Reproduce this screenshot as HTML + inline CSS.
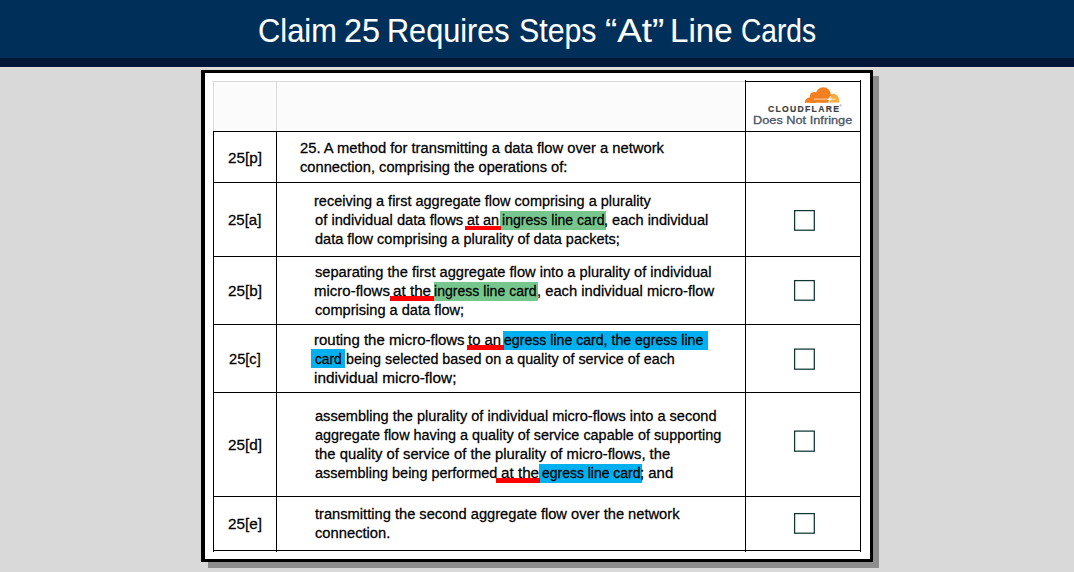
<!DOCTYPE html>
<html><head><meta charset="utf-8">
<style>
html,body{margin:0;padding:0;}
body{width:1074px;height:572px;overflow:hidden;position:relative;background:#d9d9d9;font-family:"Liberation Sans",sans-serif;}
.abs{position:absolute;}
.t{position:absolute;white-space:pre;transform-origin:0 0;line-height:1;color:#000;-webkit-text-stroke:0.25px #000;}
.title{-webkit-text-stroke:0.1px #fff;}
.title{color:#fff;}
.dni{font-weight:normal;color:#4b5567;-webkit-text-stroke:0.3px #4b5567;}
.hl{position:absolute;}
.ul{position:absolute;background:#ff0000;}
.hline{position:absolute;height:1px;background:#000;}
.vline{position:absolute;width:1px;background:#000;}
</style></head><body>
<!-- header -->
<div class="abs" style="left:0;top:0;width:1074px;height:58px;background:#00305a;"></div>
<div class="abs" style="left:0;top:58px;width:1074px;height:9px;background:#001639;"></div>
<div class="abs" style="left:0;top:67px;width:1074px;height:1px;background:#dfdedc;"></div>
<div class="t title" style="left:258.03px;top:13.97px;font-size:33px;transform:scaleX(0.9350);">Claim</div>
<div class="t title" style="left:343.54px;top:13.97px;font-size:33px;transform:scaleX(0.9818);">25</div>
<div class="t title" style="left:387.22px;top:13.97px;font-size:33px;transform:scaleX(0.9281);">Requires</div>
<div class="t title" style="left:518.86px;top:13.97px;font-size:33px;transform:scaleX(0.9183);">Steps</div>
<div class="t title" style="left:604.79px;top:13.97px;font-size:33px;transform:scaleX(1.1137);">“At”</div>
<div class="t title" style="left:669.59px;top:13.97px;font-size:33px;transform:scaleX(1.0034);">Line</div>
<div class="t title" style="left:740.50px;top:13.97px;font-size:33px;transform:scaleX(0.8518);">Cards</div>
<!-- shadow -->
<div class="abs" style="left:208px;top:76px;width:671px;height:492px;background:#8d8d8d;"></div>
<!-- box -->
<div class="abs" style="left:201px;top:70px;width:672px;height:492px;background:#000;"></div>
<div class="abs" style="left:205px;top:73px;width:665px;height:486px;background:#fff;"></div>
<!-- header row (light) -->
<div class="abs" style="left:215px;top:83px;width:60px;height:47px;background:#fbfbfb;"></div>
<div class="abs" style="left:278px;top:83px;width:466px;height:47px;background:#fbfbfb;"></div>
<div class="hline" style="left:213px;top:81px;width:533px;background:#d9d9d9;"></div>
<div class="vline" style="left:213px;top:81px;height:50px;background:#d9d9d9;"></div>
<div class="vline" style="left:276px;top:81px;height:50px;background:#d9d9d9;"></div>
<!-- cloudflare cell borders -->
<div class="hline" style="left:745px;top:81px;width:116px;"></div>
<div class="vline" style="left:745px;top:80px;height:472px;"></div>
<div class="vline" style="left:860px;top:80px;height:472px;"></div>
<!-- row lines -->
<div class="hline" style="left:213px;top:131px;width:648px;"></div>
<div class="hline" style="left:213px;top:182px;width:648px;"></div>
<div class="hline" style="left:213px;top:256px;width:648px;"></div>
<div class="hline" style="left:213px;top:324px;width:648px;"></div>
<div class="hline" style="left:213px;top:392px;width:648px;"></div>
<div class="hline" style="left:213px;top:496px;width:648px;"></div>
<div class="hline" style="left:213px;top:550px;width:648px;"></div>
<div class="vline" style="left:213px;top:131px;height:421px;"></div>
<div class="vline" style="left:276px;top:131px;height:421px;"></div>
<!-- highlights -->
<div class="hl" style="left:500.3px;top:211.1px;width:105.5px;height:18.7px;background:#76c68d;"></div>
<div class="hl" style="left:433.5px;top:282px;width:104.6px;height:18.8px;background:#76c68d;"></div>
<div class="hl" style="left:503.3px;top:331px;width:204.7px;height:18.9px;background:#00b0f0;"></div>
<div class="hl" style="left:311px;top:349px;width:33.9px;height:19px;background:#00b0f0;"></div>
<div class="hl" style="left:539.2px;top:464.1px;width:102.5px;height:18.7px;background:#00b0f0;"></div>
<!-- text -->
<div class="t" style="left:299.50px;top:142.00px;font-size:13.5px;transform-origin:0 11px;transform:scale(1.0925,1.08);">25. A method for transmitting a data flow over a network</div>
<div class="t" style="left:299.50px;top:161.00px;font-size:13.5px;transform-origin:0 11px;transform:scale(1.0861,1.08);">connection, comprising the operations of:</div>
<div class="t" style="left:313.93px;top:195.00px;font-size:13.5px;transform-origin:0 11px;transform:scale(1.0735,1.08);">receiving a first aggregate flow comprising a plurality</div>
<div class="t" style="left:315.00px;top:214.00px;font-size:13.5px;transform-origin:0 11px;transform:scale(1.0912,1.08);">of individual data flows</div>
<div class="t" style="left:467.00px;top:214.00px;font-size:13.5px;transform-origin:0 11px;transform:scale(1.0690,1.08);">at an</div>
<div class="t" style="left:501.96px;top:214.00px;font-size:13.5px;transform-origin:0 11px;transform:scale(1.0423,1.08);">ingress line card</div>
<div class="t" style="left:604.32px;top:214.00px;font-size:13.5px;transform-origin:0 11px;transform:scale(1.0768,1.08);">, each individual</div>
<div class="t" style="left:315.00px;top:233.00px;font-size:13.5px;transform-origin:0 11px;transform:scale(1.0749,1.08);">data flow comprising a plurality of data packets;</div>
<div class="t" style="left:315.00px;top:266.00px;font-size:13.5px;transform-origin:0 11px;transform:scale(1.0847,1.08);">separating the first aggregate flow into a plurality of individual</div>
<div class="t" style="left:313.89px;top:285.00px;font-size:13.5px;transform-origin:0 11px;transform:scale(1.1119,1.08);">micro-flows</div>
<div class="t" style="left:393.10px;top:285.00px;font-size:13.5px;transform-origin:0 11px;transform:scale(1.1273,1.08);">at the</div>
<div class="t" style="left:433.96px;top:285.00px;font-size:13.5px;transform-origin:0 11px;transform:scale(1.0433,1.08);">ingress line card</div>
<div class="t" style="left:536.51px;top:285.00px;font-size:13.5px;transform-origin:0 11px;transform:scale(1.0932,1.08);">, each individual micro-flow</div>
<div class="t" style="left:315.00px;top:304.00px;font-size:13.5px;transform-origin:0 11px;transform:scale(1.0803,1.08);">comprising a data flow;</div>
<div class="t" style="left:313.89px;top:334.00px;font-size:13.5px;transform-origin:0 11px;transform:scale(1.1089,1.08);">routing the micro-flows</div>
<div class="t" style="left:468.30px;top:334.00px;font-size:13.5px;transform-origin:0 11px;transform:scale(1.1000,1.08);">to an</div>
<div class="t" style="left:504.40px;top:334.00px;font-size:13.5px;transform-origin:0 11px;transform:scale(1.0453,1.08);">egress line card, the egress line</div>
<div class="t" style="left:315.20px;top:353.00px;font-size:13.5px;transform-origin:0 11px;transform:scale(1.0115,1.08);">card</div>
<div class="t" style="left:345.64px;top:353.00px;font-size:13.5px;transform-origin:0 11px;transform:scale(1.0607,1.08);">being selected based on a quality of service of each</div>
<div class="t" style="left:313.86px;top:372.00px;font-size:13.5px;transform-origin:0 11px;transform:scale(1.1366,1.08);">individual micro-flow;</div>
<div class="t" style="left:315.00px;top:410.00px;font-size:13.5px;transform-origin:0 11px;transform:scale(1.0788,1.08);">assembling the plurality of individual micro-flows into a second</div>
<div class="t" style="left:315.00px;top:429.00px;font-size:13.5px;transform-origin:0 11px;transform:scale(1.0676,1.08);">aggregate flow having a quality of service capable of supporting</div>
<div class="t" style="left:315.00px;top:448.00px;font-size:13.5px;transform-origin:0 11px;transform:scale(1.0957,1.08);">the quality of service of the plurality of micro-flows, the</div>
<div class="t" style="left:315.00px;top:467.00px;font-size:13.5px;transform-origin:0 11px;transform:scale(1.0700,1.08);">assembling being performed</div>
<div class="t" style="left:500.80px;top:467.00px;font-size:13.5px;transform-origin:0 11px;transform:scale(1.1273,1.08);">at the</div>
<div class="t" style="left:541.90px;top:467.00px;font-size:13.5px;transform-origin:0 11px;transform:scale(1.0337,1.08);">egress line card</div>
<div class="t" style="left:639.89px;top:467.00px;font-size:13.5px;transform-origin:0 11px;transform:scale(1.1071,1.08);">; and</div>
<div class="t" style="left:315.00px;top:508.00px;font-size:13.5px;transform-origin:0 11px;transform:scale(1.0866,1.08);">transmitting the second aggregate flow over the network</div>
<div class="t" style="left:315.00px;top:527.00px;font-size:13.5px;transform-origin:0 11px;transform:scale(1.0912,1.08);">connection.</div>
<div class="t" style="left:228.10px;top:152.00px;font-size:13.5px;transform-origin:0 11px;transform:scale(1.1310,1.08);">25[p]</div>
<div class="t" style="left:228.40px;top:214.00px;font-size:13.5px;transform-origin:0 11px;transform:scale(1.1103,1.08);">25[a]</div>
<div class="t" style="left:228.10px;top:285.00px;font-size:13.5px;transform-origin:0 11px;transform:scale(1.1310,1.08);">25[b]</div>
<div class="t" style="left:228.70px;top:353.00px;font-size:13.5px;transform-origin:0 11px;transform:scale(1.0828,1.08);">25[c]</div>
<div class="t" style="left:228.10px;top:439.00px;font-size:13.5px;transform-origin:0 11px;transform:scale(1.1310,1.08);">25[d]</div>
<div class="t" style="left:228.10px;top:518.00px;font-size:13.5px;transform-origin:0 11px;transform:scale(1.1310,1.08);">25[e]</div>
<!-- underlines -->
<div class="ul" style="left:465.1px;top:226px;width:36px;height:4px;"></div>
<div class="ul" style="left:390.1px;top:296.2px;width:43.8px;height:4.6px;"></div>
<div class="ul" style="left:466.9px;top:345.2px;width:37px;height:4.6px;"></div>
<div class="ul" style="left:496.1px;top:478.1px;width:43.9px;height:4.6px;"></div>
<!-- checkboxes -->
<svg class="abs" style="left:0;top:0;" width="1074" height="572">
<rect x="794.6" y="210.6" width="19.7" height="19.6" fill="none" stroke="#0f3631" stroke-width="1.25"/>
<rect x="794.6" y="280.6" width="19.7" height="19.6" fill="none" stroke="#0f3631" stroke-width="1.25"/>
<rect x="794.6" y="349.1" width="19.7" height="20.1" fill="none" stroke="#0f3631" stroke-width="1.25"/>
<rect x="794.6" y="431.1" width="19.7" height="20.1" fill="none" stroke="#0f3631" stroke-width="1.25"/>
<rect x="794.6" y="513.6" width="19.7" height="19.6" fill="none" stroke="#0f3631" stroke-width="1.25"/>
</svg>
<!-- cloudflare logo -->
<svg class="abs" style="left:800px;top:84px;" width="44" height="22" viewBox="0 0 44 22">
  <defs><clipPath id="cb"><rect x="0" y="0" width="44" height="18.8"/></clipPath></defs>
  <g clip-path="url(#cb)">
    <path d="M29.3 18.8 L29.3 11.5 Q30.5 9.8 33.3 9.8 C37 9.9 39.6 13.6 39.4 18.8 Z" fill="#faad3f"/>
    <circle cx="10.3" cy="19" r="5.7" fill="#f38020"/>
    <circle cx="14.3" cy="12.6" r="4.6" fill="#f38020"/>
    <circle cx="23.3" cy="10.9" r="7.6" fill="#f38020"/>
    <rect x="10" y="12.5" width="18.9" height="6.5" fill="#f38020"/>
    <path d="M28.2 18.8 L30.3 12 L31 12 L29.4 18.8 Z" fill="#fff"/>
    <rect x="13.9" y="14.4" width="15" height="1.6" fill="#f7b27a"/>
    <rect x="30.6" y="14.4" width="5" height="1.6" fill="#fcd197"/>
    <path d="M29.6 12.6 L30.3 14.5 L32.3 15.2 L30.3 15.9 L29.6 17.8 L28.9 15.9 L26.9 15.2 L28.9 14.5 Z" fill="#fff"/>
  </g>
</svg>
<div class="t" style="left:768px;top:105px;font-size:8.6px;font-weight:bold;letter-spacing:1.3px;color:#404041;-webkit-text-stroke:0.2px #404041;">CLOUDFLARE</div>
<div class="t" style="left:839.6px;top:105.2px;font-size:3px;color:#404041;-webkit-text-stroke:0;">&#174;</div>
<div class="t dni" style="left:752.94px;top:114.69px;font-size:11px;transform:scaleX(1.1595);">Does Not Infringe</div>
</body></html>
